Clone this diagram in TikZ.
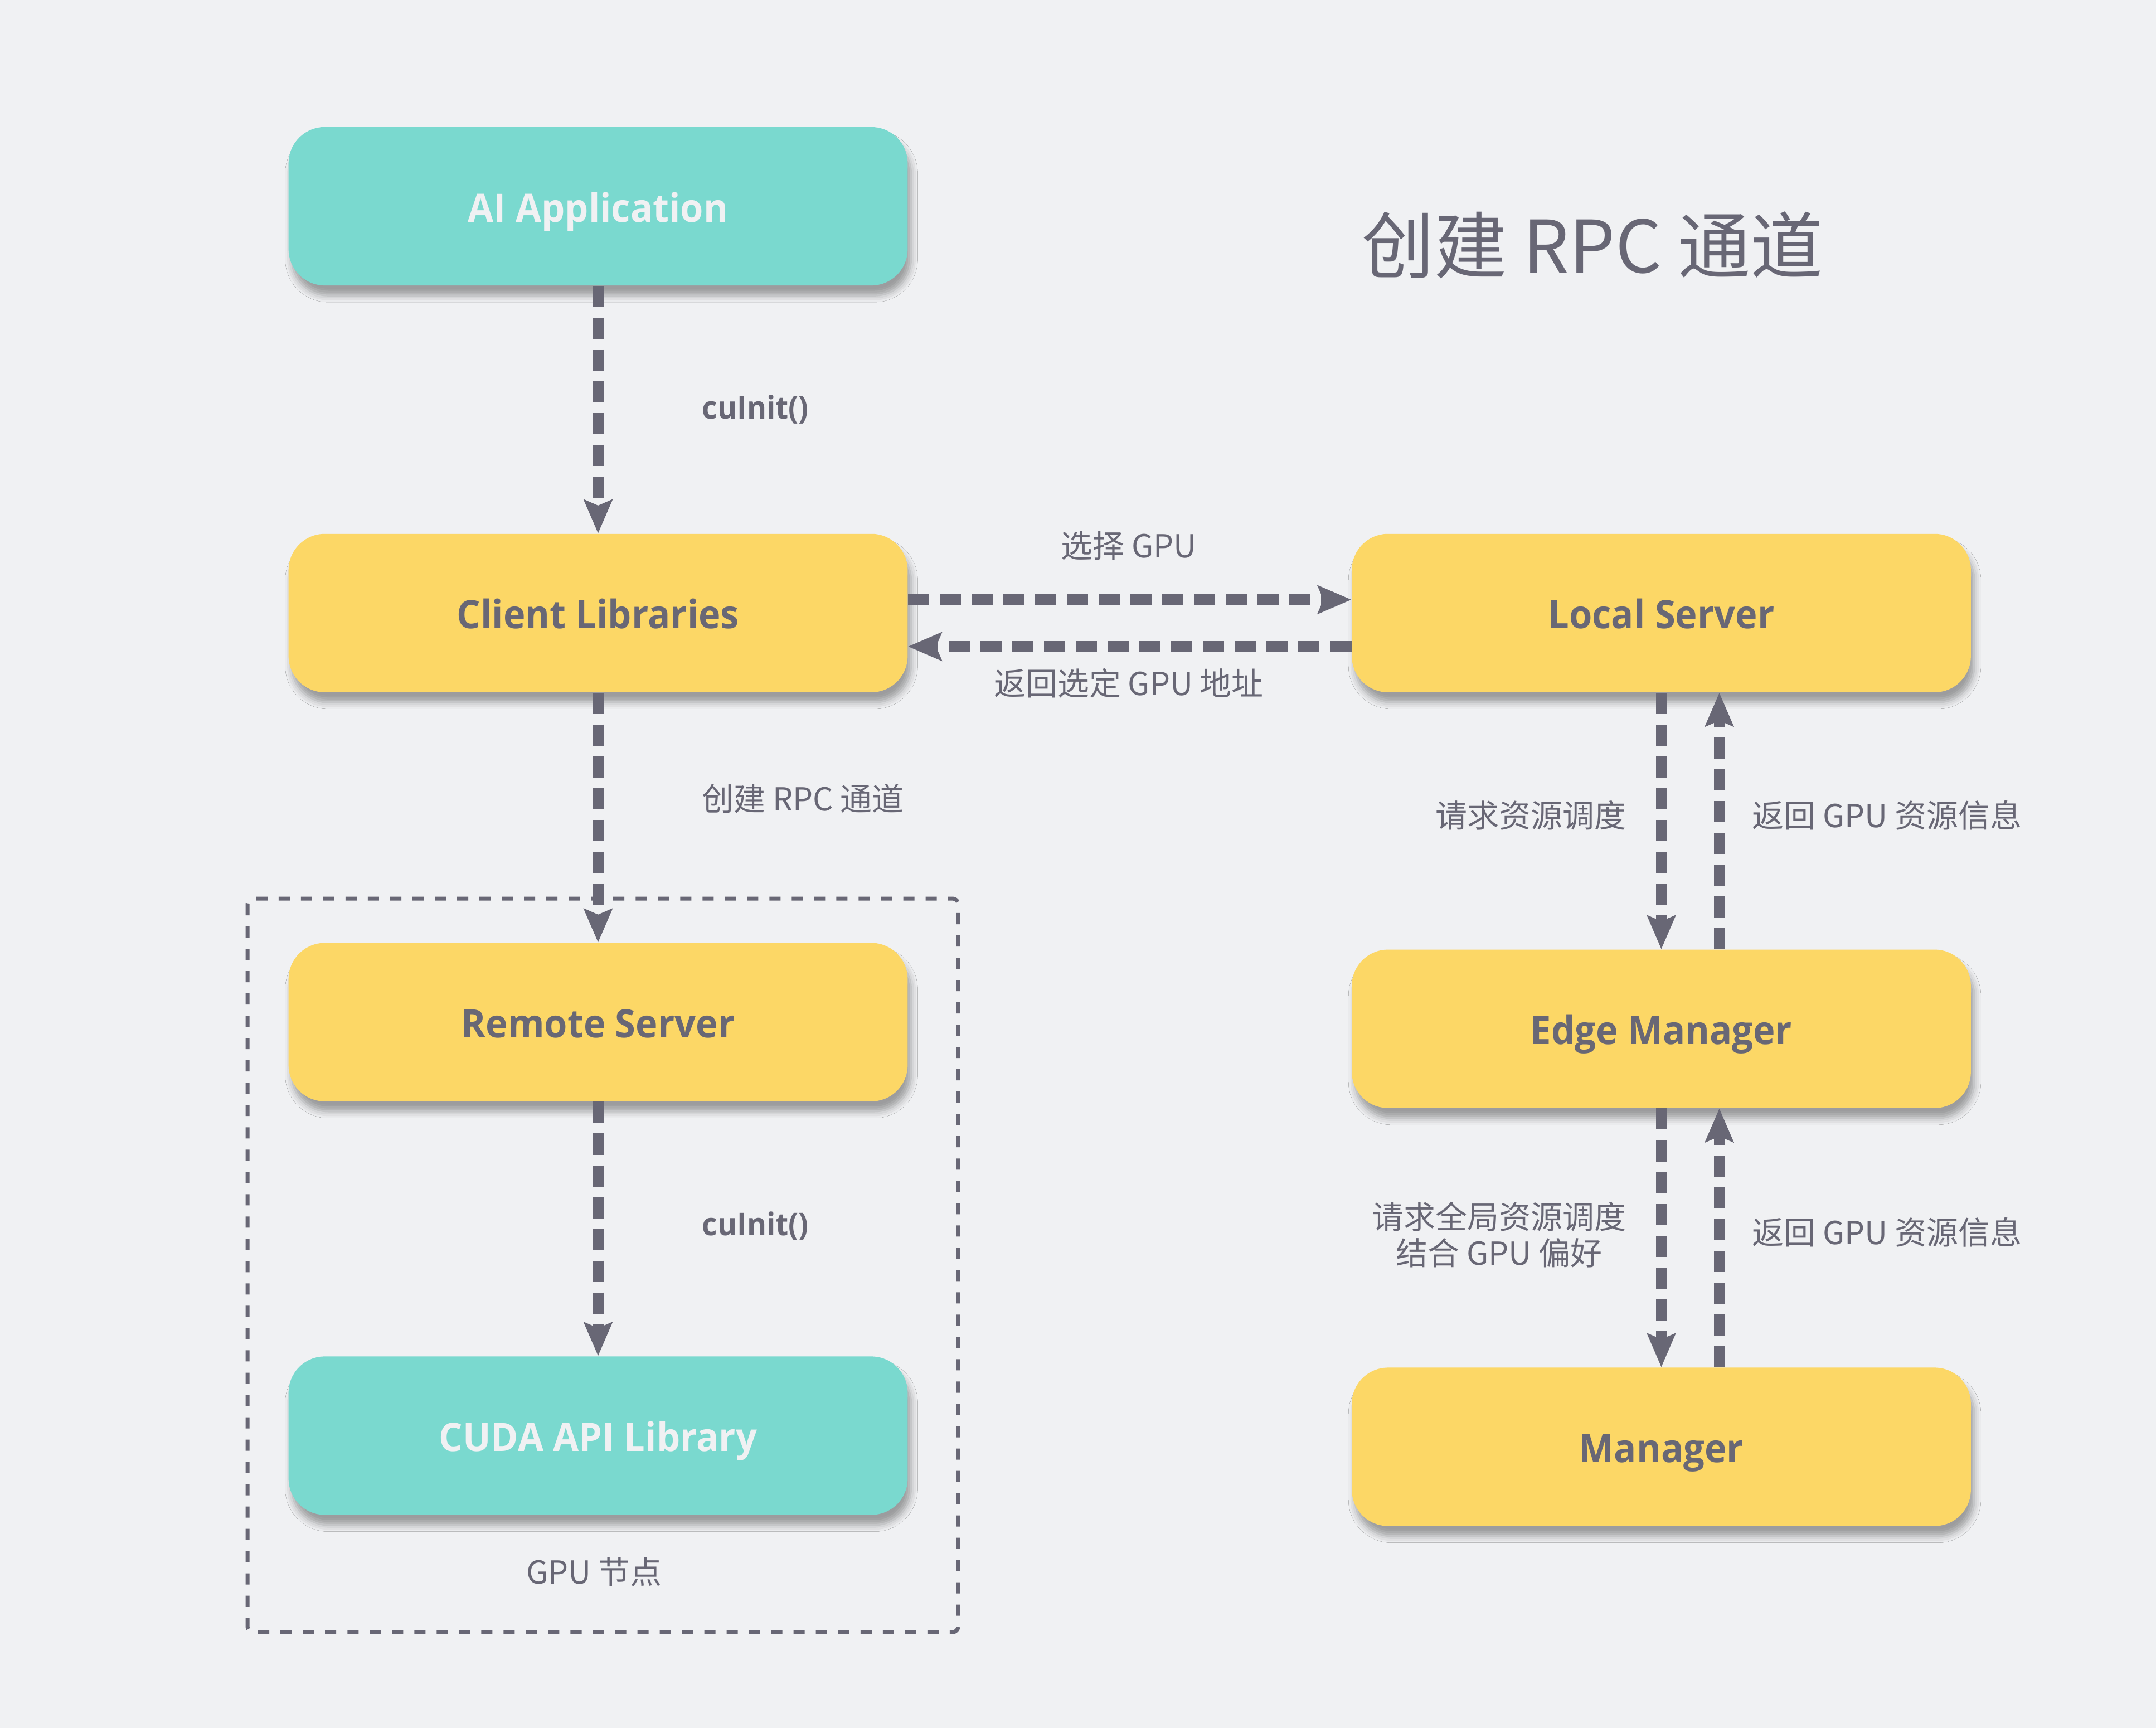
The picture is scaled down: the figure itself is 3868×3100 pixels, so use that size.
\documentclass[tikz,border=0pt]{standalone}
\usepackage{fontspec}
\usepackage{xcolor}
\usepackage{tikz}
\usetikzlibrary{arrows.meta,positioning,shadows.blur}
\newfontfamily\boxfont{Open Sans}[FakeStretch=0.95]
\newfontfamily\cjk{Noto Sans CJK SC}
\definecolor{paper}{HTML}{F0F1F3}
\definecolor{mint}{HTML}{7AD9CF}
\definecolor{sun}{HTML}{FCD766}
\definecolor{slate}{HTML}{686775}
\tikzset{
  box/.style={
    rounded corners=6.5mm,draw=none,
    minimum width=111mm,minimum height=28.4mm,
    text height=16pt,text depth=0pt,
    align=center,font=\boxfont\bfseries\fontsize{20pt}{24pt}\selectfont,
    blur shadow={shadow xshift=.6mm,shadow yshift=-1.8mm,
      shadow blur radius=1.2mm,shadow opacity=35}
  },
  mintbox/.style={box,fill=mint,text=paper},
  sunbox/.style={box,fill=sun,text=slate},
  flow/.style={-{Stealth[length=6mm,width=5mm,inset=1mm]},
    draw=slate,line width=2mm,dash pattern=on 3.8mm off 1.9mm},
  note/.style={font=\cjk\fontsize{16.2pt}{18.3pt}\selectfont,
    text=slate,inner sep=0pt,align=center},
  code/.style={font=\boxfont\bfseries\fontsize{16pt}{19pt}\selectfont,
    text=slate,inner sep=0pt},
  heading/.style={font=\cjk\fontsize{37pt}{44pt}\selectfont,text=slate},
  gpuframe/.style={draw=slate,line width=.7mm,
    dash pattern=on 2mm off 2mm,rounded corners=1mm}
}

\begin{document}
\begin{tikzpicture}[x=.01cm,y=-.01cm]
\fill[paper] (0,0) rectangle (3868,3100);
\useasboundingbox (0,0) rectangle (3868,3100);

% left column
\node[mintbox] (app) at (1073,370) {AI Application};
\node[sunbox,below=44.4mm of app] (client) {Client Libraries};
\node[sunbox,below=44.8mm of client] (remote) {Remote Server};
\node[mintbox,below=45.6mm of remote] (cuda) {CUDA API Library};

% right column
\node[sunbox,right=79.5mm of client] (local) {Local Server};
\node[sunbox,below=46mm of local] (edge) {Edge Manager};
\node[sunbox,below=46.4mm of edge] (manager) {Manager};

\node[heading] (title) at (2857,440) {创建 RPC 通道};

% gpu node frame
\draw[gpuframe] (444,1612) rectangle (1719,2928);
\node[note] (gpu) at (1066,2820) {GPU 节点};

\draw[flow] (app)--(client);
\draw[flow] (client)--(remote);
\draw[flow] (remote)--(cuda);
\draw[flow] ([yshift=2.4mm]client.east)--([yshift=2.4mm]local.west);
\draw[flow] ([yshift=-6mm]local.west)--([yshift=-6mm]client.east);
\draw[flow] (local)--(edge);
\draw[flow] ([xshift=10.4mm]edge.north)--([xshift=10.4mm]local.south);
\draw[flow] (edge)--(manager);
\draw[flow] ([xshift=10.4mm]manager.north)--([xshift=10.4mm]edge.south);

\node[code,anchor=west] (init1) at (1259,735) {cuInit()};
\node[note,anchor=west] (mkrpc) at (1259,1433) {创建 RPC 通道};
\node[code,anchor=west] (init2) at (1259,2200) {cuInit()};
\node[note] (pick) at (2025,979) {选择 GPU};
\node[note] (back) at (2025,1226) {返回选定 GPU 地址};
\node[note,anchor=east] (ask) at (2918,1463) {请求资源调度};
\node[note,anchor=west] (info1) at (3143,1463) {返回 GPU 资源信息};
\node[note,anchor=east] (askall) at (2918,2215) {请求全局资源调度\\结合 GPU 偏好};
\node[note,anchor=west] (info2) at (3143,2211) {返回 GPU 资源信息};
\end{tikzpicture}
\end{document}
